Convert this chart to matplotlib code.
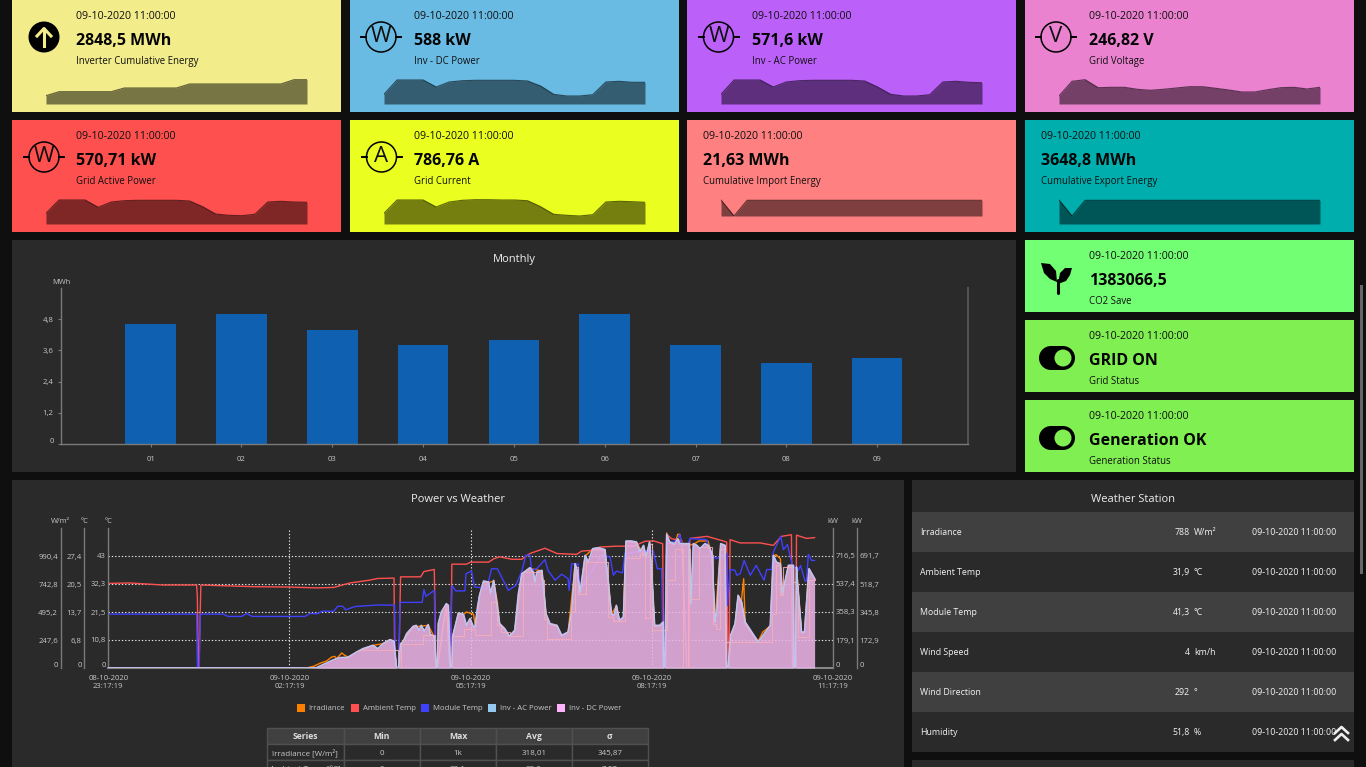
import matplotlib
matplotlib.use('Agg')
import matplotlib.pyplot as plt
from matplotlib.patches import Rectangle, Circle, Polygon
from matplotlib.transforms import ScaledTranslation

plt.rcParams['font.family'] = ['Open Sans', 'DejaVu Sans']

W, H = 1366, 767

# ---- stat cards
stamp = '09-10-2020 11:00:00'
card_values = ['2848,5 MWh', '588 kW', '571,6 kW', '246,82 V',
               '570,71 kW', '786,76 A', '21,63 MWh', '3648,8 MWh']
card_names = ['Inverter Cumulative Energy', 'Inv - DC Power', 'Inv - AC Power', 'Grid Voltage',
              'Grid Active Power', 'Grid Current', 'Cumulative Import Energy', 'Cumulative Export Energy']
card_colors = ['#F2EC8A', '#6ABBE4', '#BC60FA', '#EA82D0',
               '#FF5050', '#EAFF1F', '#FF8080', '#00AEAE']
card_icons = ['up', 'W', 'W', 'V', 'W', 'A', None, None]

spark_energy = [8.3, 12.3, 12.3, 12.3, 12.3, 12.3, 16, 16, 16, 16, 16, 20, 20, 20, 20, 20, 20, 20, 20, 24.3, 24.3]
spark_dc = [9.7, 24, 24, 24, 17, 22, 23.3, 23.7, 23.7, 23.7, 23.7, 23, 18, 9.7, 8, 8, 9.3, 22, 22.7, 21.7, 21.7]
spark_ac = [9.7, 24, 24, 24, 17, 22, 23.3, 23.7, 23.7, 23.7, 23.7, 23, 17, 9.7, 8, 8, 9.3, 22, 22.7, 21.7, 21.3]
spark_volt = [8, 22.7, 24.3, 16.3, 16.7, 16.7, 14.7, 13.7, 14.7, 16, 17.3, 17.3, 15.7, 14, 12, 12, 14.3, 16.3, 16.7, 15, 16.7]
spark_active = [10.7, 24, 24, 24, 16.7, 22, 23.3, 23.7, 23.7, 23.7, 23.7, 23, 17.3, 10, 8.7, 8.3, 9.7, 22, 22.7, 22, 21.7]
spark_current = [10.7, 24, 24, 24, 17, 22, 23.7, 24.3, 24.3, 24, 24, 23.3, 17.3, 9.7, 8.7, 8, 9.3, 22, 22.7, 22.3, 21.7]
spark_import = [16, 0, 15.7, 15.7, 15.7, 15.7, 15.7, 15.7, 15.7, 15.7, 15.7, 15.7, 15.7, 15.7, 15.7, 15.7, 15.7, 15.7, 15.7, 15.7, 15.7]
spark_export = [24, 8, 23.7, 23.7, 23.7, 23.7, 23.7, 23.7, 23.7, 23.7, 23.7, 23.7, 23.7, 23.7, 23.7, 23.7, 23.7, 23.7, 23.7, 23.7, 23.7]
sparks = [spark_energy, spark_dc, spark_ac, spark_volt, spark_active, spark_current, spark_import, spark_export]

# ---- monthly bars
months = ['01', '02', '03', '04', '05', '06', '07', '08', '09']
monthly_mwh = [4.6, 5.0, 4.4, 3.8, 4.0, 5.0, 3.8, 3.1, 3.3]
monthly_ticks = [0, 1.2, 2.4, 3.6, 4.8]

# ---- power vs weather, t is minutes after 08-10-2020 23:17:19
x_ticks = [0, 180, 360, 540, 720]
x_labels = ['08-10-2020\n23:17:19', '09-10-2020\n02:17:19', '09-10-2020\n05:17:19', '09-10-2020\n08:17:19', '09-10-2020\n11:17:19']

power_t = [0, 197, 207, 214, 224, 230, 238, 247, 253, 263, 268, 273, 280, 284, 286.5, 288.5, 290.5, 293, 296.5, 303,
           306, 309, 311, 314, 318, 320, 324, 326, 327, 328, 331, 336, 338, 340, 341.5, 342.3, 344.6, 348, 353, 356,
           359.5, 363, 364.5, 367, 369, 373, 378, 380, 383, 386, 389, 394, 398.6, 404, 407.6, 411, 419, 422.5, 424, 426,
           431, 435, 439, 446, 450.6, 457, 460.6, 464, 466, 469, 474, 477, 481.5, 487, 493.7, 497, 500, 502.6, 505, 508,
           512, 514.6, 520, 525, 528.5, 532, 534.5, 538, 540.4, 543, 548, 551.5, 552, 553.3, 555, 558, 563, 566, 568, 570,
           571, 576.5, 577.5, 579, 581.5, 585, 588, 593, 596.4, 600, 603, 605, 608.7, 613, 614.5, 616, 618.6, 623, 626, 629.5,
           633, 646, 658, 661, 664, 668, 670, 676, 681, 681.5, 683, 684, 685, 689, 692, 696.5, 702]
dc_kw = [0, 0, 2, 23, 51, 64, 66, 99, 119, 140, 119, 150, 175, 165, 0, 0, 150, 161, 212, 257,
         263, 233, 263, 228, 268, 208, 196, 0, 0, 274, 346, 397, 387, 0, 0, 196, 253, 340, 331, 263,
         305, 253, 253, 377, 449, 537, 531, 459, 541, 407, 274, 243, 196, 233, 459, 582, 619, 593, 531, 593,
         603, 335, 274, 263, 202, 222, 356, 644, 603, 469, 696, 654, 737, 743, 731, 531, 335, 325, 387, 294,
         315, 784, 784, 778, 716, 757, 685, 778, 562, 263, 263, 284, 0, 0, 825, 778, 768, 798, 768, 768,
         768, 768, 768, 397, 768, 757, 737, 768, 757, 706, 284, 356, 768, 757, 0, 0, 202, 274, 449, 407,
         284, 161, 263, 696, 654, 644, 459, 634, 634, 0, 0, 624, 531, 222, 222, 613, 552]
ac_kw = [0, 0, 2, 23, 53, 66, 68, 102, 124, 145, 124, 156, 181, 171, 0, 0, 156, 166, 220, 267,
         273, 241, 273, 237, 277, 215, 203, 0, 0, 284, 358, 411, 401, 0, 0, 203, 262, 352, 343, 273,
         316, 262, 262, 390, 465, 556, 550, 475, 561, 422, 284, 252, 203, 241, 475, 603, 642, 614, 550, 614,
         625, 348, 284, 273, 209, 230, 369, 667, 625, 486, 721, 678, 763, 770, 757, 550, 348, 337, 401, 305,
         326, 812, 812, 806, 742, 785, 710, 806, 582, 273, 273, 294, 0, 0, 855, 806, 795, 827, 795, 795,
         795, 795, 795, 411, 795, 785, 763, 795, 785, 731, 294, 369, 795, 785, 0, 0, 209, 284, 465, 422,
         294, 166, 273, 721, 678, 667, 475, 657, 657, 0, 0, 646, 550, 230, 230, 635, 571.6]

ambient_t = [0, 21.5, 54.6, 87.8, 88.5, 89.5, 90.1, 92, 117.6, 144, 180, 207, 224, 240, 260, 267.4, 284, 284.5, 286, 288.7,
             290.5, 310.4, 313.7, 324, 325.7, 340, 341.5, 356, 360, 378, 383, 389, 401, 411, 419, 434, 446, 465.5, 470.5, 482,
             488.7, 505, 522, 533.5, 542, 551, 552, 554, 555, 560, 570, 575, 577, 578, 595, 609.6, 614.6, 616, 617, 618,
             628, 648, 661, 669, 679, 680, 683.5, 684, 694, 702]
ambient_c = [20.7, 20.8, 20.3, 20.3, 17.4, 0, 0, 20.3, 20.1, 19.9, 19.8, 19.6, 19.7, 20.8, 21.5, 21.9, 22.0, 6, 0, 0,
             22.3, 22.3, 23.6, 24.1, 0, 0, 25.4, 25.4, 25.9, 25.9, 26.7, 27.2, 26.6, 26.6, 28, 29.3, 28, 27.8, 28.6, 28.8,
             29.6, 29.8, 29.8, 31, 31.1, 30.4, 0, 0, 32.7, 31.6, 31.2, 0, 0, 31.7, 32.2, 31.2, 30.8, 0, 0, 31.4,
             30.6, 30.6, 30, 32.2, 32.6, 0, 0, 32.5, 31.7, 31.9]

module_t = [0, 87.8, 88.5, 90.4, 91.4, 114, 119, 132.5, 137.5, 143, 195.5, 200.4, 208.7, 212, 224, 228, 233, 236, 245, 268,
            284.6, 285.2, 288.6, 290, 312, 313.7, 315.7, 324, 325.4, 340, 341.6, 345.5, 354.5, 355.5, 361, 364, 371, 376, 381, 386.7,
            397.6, 405, 411, 415, 419, 420.8, 425.8, 434, 437, 444, 450.6, 457, 458, 460.6, 467, 469, 490, 498.7, 502, 505,
            511, 513.6, 536.8, 541.7, 545.7, 550, 551.7, 553, 555, 565, 568, 570, 576.5, 578, 594.7, 598.7, 604.7, 614.6, 615.5, 618,
            623, 624.6, 628, 632, 638, 644, 651.7, 654.4, 659.4, 661, 668.3, 671, 675, 680, 686, 688, 692.5, 694, 695.8, 699, 702]
module_c = [20.7, 20.7, 0, 0, 20.7, 20.7, 19.8, 19.8, 20.9, 19.8, 19.8, 20.9, 20.9, 21.8, 21.8, 23.7, 23.7, 22.3, 23.6, 24.2,
            24.1, 0, 0, 25.2, 25.2, 30.1, 27.5, 29.8, 0, 0, 31.6, 29.6, 29.6, 36.2, 37.2, 31.1, 30.8, 30.4, 38.1, 38.1,
            29.8, 31.7, 37.1, 43.3, 43.3, 37.5, 38.1, 41.6, 37.5, 33.7, 36, 34.3, 29.8, 40, 40, 29.8, 43.3, 42.6, 35.6, 37.2,
            36.5, 43.9, 45.2, 44.9, 38.1, 38.1, 0, 0, 47.7, 49, 51.3, 47.7, 47.7, 49.7, 49.3, 43.3, 42, 43.9, 24, 37.8,
            37.5, 35.6, 36.2, 41.3, 35.6, 39.4, 33.7, 37.8, 37.8, 44.5, 50.6, 45.4, 47.4, 39.4, 37.5, 39.4, 33.4, 33.4, 43.6, 41.3, 41.3]

irr_t = [0, 197, 204, 211, 217, 222, 225, 227, 232, 235, 239, 247, 263, 273, 280, 284, 286, 289, 290.5, 303,
         318, 324, 326, 327, 336, 339.5, 341.5, 342.3, 348, 353, 356, 363, 365, 369, 373, 378, 383, 386.7, 389, 394,
         398.6, 404, 411, 419, 431, 435, 439, 446, 450.6, 457, 464, 469, 474, 481, 493, 497, 500, 505, 508, 512,
         514.6, 525, 534, 538, 543, 548, 551.5, 552, 553.3, 555, 558, 563, 566, 568, 570, 571, 576.5, 577.5, 581, 587,
         596, 600, 603, 608.7, 613, 614, 616.6, 618.6, 623, 626, 629, 631.5, 633, 641, 646, 650.5, 658, 661, 663.7, 668,
         670, 676, 681, 681.5, 683, 684, 689, 692, 696, 702]
irr_wm2 = [0, 0, 15, 44, 62, 97, 103, 83, 133, 112, 94, 142, 200, 215, 251, 236, 0, 0, 209, 363,
           377, 274, 0, 0, 563, 0, 0, 280, 481, 475, 495, 475, 363, 637, 764, 755, 769, 584, 377, 339,
           280, 327, 828, 881, 858, 475, 386, 371, 283, 312, 917, 666, 990, 1049, 1041, 755, 475, 548, 416, 445,
           1117, 1108, 976, 1108, 371, 371, 401, 0, 0, 1194, 1105, 1091, 1182, 1182, 1091, 1091, 1091, 1091, 1091, 1123,
           1123, 1005, 401, 1094, 1079, 0, 0, 283, 386, 637, 569, 790, 392, 289, 236, 318, 371, 990, 1002, 967,
           651, 902, 902, 0, 0, 887, 312, 312, 870, 788]

# pale stepped trace that sits over the filled area
held_t = [250, 282, 288, 291, 313, 325, 342, 354, 364, 380, 386, 390, 399, 412, 430, 433, 436, 460, 464, 467,
          475, 497, 502, 514, 528, 533, 538, 540, 555, 563, 571, 576.5, 578, 587, 600, 601, 604, 608, 613, 660,
          664, 668, 671, 681, 684, 686, 696, 702]
held_wm2 = [156, 156, 0, 209, 295, 0, 280, 348, 295, 584, 377, 318, 280, 849, 775, 436, 259, 495, 893, 657,
            937, 451, 416, 976, 1010, 445, 1100, 333, 775, 1055, 0, 1055, 613, 1070, 1000, 392, 348, 1055, 230, 481,
            908, 643, 893, 761, 734, 274, 775, 790]

irr_ticks = [0, 247.6, 495.2, 742.8, 990.4]
amb_ticks = [0, 6.8, 13.7, 20.5, 27.4]
mod_ticks = [0, 10.8, 21.5, 32.3, 43]
ac_ticks = [0, 179.1, 358.3, 537.4, 716.5]
dc_ticks = [0, 172.9, 345.8, 518.7, 691.7]

legend_names = ['Irradiance', 'Ambient Temp', 'Module Temp', 'Inv - AC Power', 'Inv - DC Power']
legend_colors = ['#FF8000', '#FF5050', '#4040FF', '#95C8EE', '#FFB3FF']

table_head = ['Series', 'Min', 'Max', 'Avg', 'σ']
table_rows = [['Irradiance [W/m²]', '0', '1k', '318,01', '345,87'],
              ['Ambient Temp [°C]', '0', '33,1', '23,5', '7,07']]

# ---- weather station
weather_names = ['Irradiance', 'Ambient Temp', 'Module Temp', 'Wind Speed', 'Wind Direction', 'Humidity']
weather_values = ['788', '31,9', '41,3', '4', '292', '51,8']
weather_units = ['W/m²', '°C', '°C', 'km/h', '°', '%']

# ---- status cards
status_values = ['1383066,5', 'GRID ON', 'Generation OK']
status_names = ['CO2 Save', 'Grid Status', 'Generation Status']
status_colors = ['#73FF73', '#80EF52', '#80EF52']

PANEL = '#2A2A2A'
TICK = '#C6C6C6'
AXIS = '#7A7A7A'


def px_axes(x0, y0, x1, y1, **kw):
    # axes from pixel box, y measured from the top of the page
    ax = fig.add_axes([x0 / W, 1 - y1 / H, (x1 - x0) / W, (y1 - y0) / H], **kw)
    ax.patch.set_visible(False)
    return ax


def label(v):
    return ('%g' % v).replace('.', ',')


def txt(x, y, s, size=7, color='black', ha='left', weight='normal', va='center'):
    # Open Sans sits a little high when centred
    bg.text(x, y + 1.2, s, fontsize=size, color=color, ha=ha, va=va, fontweight=weight, zorder=3)


def lift_zero(ax):
    lab = ax.get_yticklabels()[0]
    lab.set_transform(lab.get_transform() + ScaledTranslation(0, 2.6 / 72, fig.dpi_scale_trans))


fig = plt.figure(figsize=(W / 100, H / 100), dpi=100, facecolor='#0F0F0F')
bg = fig.add_axes([0, 0, 1, 1])
bg.set_xlim(0, W)
bg.set_ylim(H, 0)
bg.axis('off')


def box(x0, y0, x1, y1, color, z=1):
    bg.add_patch(Rectangle((x0, y0), x1 - x0, y1 - y0, facecolor=color, edgecolor='none', zorder=z))


def meter(cx, cy, letter):
    bg.add_patch(Circle((cx, cy), 15, facecolor='none', edgecolor='black', lw=1.1, zorder=3))
    bg.plot([cx - 20, cx - 15], [cy, cy], color='black', lw=1.4, zorder=3)
    bg.plot([cx + 15, cx + 20], [cy, cy], color='black', lw=1.4, zorder=3)
    bg.text(cx, cy, letter, fontsize=16, color='#101010', ha='center', va='center', zorder=4)


# stat cards
card_x = [(12, 341), (350, 679), (687, 1016), (1025, 1354)]
card_y = [(0, 112), (120, 232)]
text_x = [76, 414, 752, 1089, 76, 414, 703, 1041]
spark_x = [(46, 307), (384, 645), (721, 982), (1059, 1320)]
icon_x = [44, 381, 718.5, 1056, 44, 381.5, None, None]
spark_base = [104, 104, 104, 104, 224, 224, 216, 224]

for i in range(8):
    col = i % 4
    row = i // 4
    x0, x1 = card_x[col]
    y0, y1 = card_y[row]
    box(x0, y0, x1, y1, card_colors[i])
    txt(text_x[i], y0 + 15, stamp, 7.7, '#101010')
    txt(text_x[i], y0 + 39.7, card_values[i], 11.5, '#050505', weight='bold')
    txt(text_x[i], y0 + 60.5, card_names[i], 6.9, '#101010')

    cy = y0 + 37
    if card_icons[i] == 'up':
        cx = icon_x[i]
        bg.add_patch(Circle((cx, cy), 15.5, facecolor='black', edgecolor='none', zorder=3))
        bg.plot([cx, cx], [cy + 9, cy - 8], color=card_colors[i], lw=2.2, zorder=4)
        bg.plot([cx - 7, cx, cx + 7], [cy - 1, cy - 8.5, cy - 1], color=card_colors[i], lw=2.2, zorder=4)
    elif card_icons[i] is not None:
        meter(icon_x[i], cy, card_icons[i])

    sx0, sx1 = spark_x[col]
    base = spark_base[i]
    sp = px_axes(sx0, base - 25, sx1, base)
    sp.axis('off')
    sp.set_xlim(0, 20)
    sp.set_ylim(0, 25)
    sp.fill_between(range(21), sparks[i], 0, color='black', alpha=0.5, lw=0)
    sp.plot(range(21), sparks[i], color='black', alpha=0.6, lw=0.8)

# status cards
status_y = [(240, 312), (320, 392), (400, 472)]
for i in range(3):
    y0, y1 = status_y[i]
    box(1025, y0, 1354, y1, status_colors[i])
    txt(1089, y0 + 15, stamp, 7.7, '#101010')
    txt(1089, y0 + 39.7, status_values[i], 11.5, '#050505', weight='bold')
    txt(1089, y0 + 60.5, status_names[i], 6.9, '#101010')
    if i > 0:
        bg.add_patch(Rectangle((1051, y0 + 26), 12, 24, facecolor='black', edgecolor='none', zorder=3))
        bg.add_patch(Circle((1051, y0 + 38), 12, facecolor='black', edgecolor='none', zorder=3))
        bg.add_patch(Circle((1063, y0 + 38), 12, facecolor='black', edgecolor='none', zorder=3))
        bg.add_patch(Circle((1063, y0 + 38), 8.5, facecolor=status_colors[i], edgecolor='none', zorder=4))

# sprout icon
bg.plot([1057.5, 1057.5], [280, 293], color='black', lw=2.2, zorder=3, solid_capstyle='round')
bg.add_patch(Polygon([(1041, 263), (1050, 264), (1056, 271), (1057, 282), (1050, 279), (1044, 273)], facecolor='black', zorder=3))
bg.add_patch(Polygon([(1072, 268), (1065, 268), (1060, 273), (1058, 284), (1066, 281), (1070, 275)], facecolor='black', zorder=3))

# monthly panel
box(12, 240, 1016, 472, PANEL)
txt(514, 258.6, 'Monthly', 8, '#EEEEEE', ha='center')
txt(61, 281, 'MWh', 5.4, TICK, ha='center')
ax_m = px_axes(60.5, 288, 968, 444)
ax_m.bar(range(1, 10), monthly_mwh, width=0.557, color='#0F60B0', zorder=2)
ax_m.set_xlim(0.008, 10)
ax_m.set_ylim(0, 6)
ax_m.set_xticks(range(1, 10), months)
ax_m.set_yticks(monthly_ticks, [label(v) for v in monthly_ticks])
ax_m.tick_params(axis='both', length=2, width=0.8, color=AXIS, labelcolor=TICK, labelsize=5.6, pad=3)
ax_m.tick_params(axis='x', pad=7)
lift_zero(ax_m)
ax_m.spines['top'].set_visible(False)
for s in ['left', 'bottom', 'right']:
    ax_m.spines[s].set_color(AXIS)
    ax_m.spines[s].set_linewidth(1)
ax_m.spines['right'].set_color('#555555')
ax_m.spines['right'].set_linewidth(1.4)

# power vs weather panel
box(12, 480, 904, H, PANEL)
txt(458, 498.6, 'Power vs Weather', 8, '#EEEEEE', ha='center')

ax_irr = px_axes(108.3, 528, 832.7, 668)
ax_amb = ax_irr.twinx()
ax_mod = ax_irr.twinx()
ax_ac = ax_irr.twinx()
ax_dc = ax_irr.twinx()
ax_held = ax_irr.twinx()

ax_irr.set_xlim(0, 720)
ax_irr.set_xticks(x_ticks, x_labels)
ax_irr.tick_params(axis='x', length=0, labelcolor=TICK, labelsize=5.6, pad=5)
ax_irr.grid(True, color='#E8E8E8', lw=0.8, linestyle=(0, (1.2, 1.8)), zorder=0)
ax_irr.set_axisbelow(True)

y_axes = [(ax_irr, irr_ticks, 1238, 'left', 47.6), (ax_amb, amb_ticks, 34.25, 'left', 24),
          (ax_mod, mod_ticks, 53.75, 'left', 0), (ax_ac, ac_ticks, 895.6, 'right', 0),
          (ax_dc, dc_ticks, 864.6, 'right', 24)]
for a, ticks, top, side, out in y_axes:
    a.patch.set_visible(False)
    a.set_ylim(0, top)
    a.set_yticks(ticks, [label(v) for v in ticks])
    if side == 'left':
        a.yaxis.tick_left()
    else:
        a.yaxis.tick_right()
    a.tick_params(axis='y', length=0, labelcolor=TICK, labelsize=5.6, pad=2)
    for s in a.spines.values():
        s.set_visible(False)
    a.spines[side].set_visible(True)
    a.spines[side].set_position(('outward', out * 0.72))
    a.spines[side].set_color(AXIS)
    a.spines[side].set_linewidth(1)
    # set_position rebuilds the ticks, so the zero label is moved after it
    lift_zero(a)
ax_irr.spines['bottom'].set_visible(True)
ax_irr.spines['bottom'].set_color('#8A8A8A')
ax_irr.spines['bottom'].set_linewidth(1.4)

ax_held.set_ylim(0, 1238)
ax_held.axis('off')

ax_irr.plot(irr_t, irr_wm2, color=legend_colors[0], lw=1)
ax_amb.plot(ambient_t, ambient_c, color=legend_colors[1], lw=1)
ax_mod.plot(module_t, module_c, color=legend_colors[2], lw=1)
ax_ac.fill_between(power_t, ac_kw, 0, color=legend_colors[3], alpha=0.5, lw=0)
ax_dc.fill_between(power_t, dc_kw, 0, color='#FFB0E6', alpha=0.72, lw=0)
ax_dc.plot(power_t, dc_kw, color='#DDB0EE', lw=1.2)
ax_held.plot(held_t, held_wm2, color='#F6AEBA', lw=0.8, alpha=0.85, drawstyle='steps-post')
ax_held.plot(power_t, [v * 1238 / 895.6 for v in ac_kw], color='#A9D3EE', lw=0.7, alpha=0.8)

for x, s in [(60.7, 'W/m²'), (84.3, '°C'), (108.3, '°C'), (832.7, 'kW'), (856.7, 'kW')]:
    txt(x, 520.5, s, 5.4, TICK, ha='center')

# legend
swatch_x = [296.7, 350.7, 420.7, 488, 557.3]
for sx, name, c in zip(swatch_x, legend_names, legend_colors):
    box(sx, 704, sx + 8, 712, c, z=2)
    txt(sx + 12, 707.5, name, 5.6, TICK)

# stats table
col_x = [267, 343.5, 420, 496, 571.7, 648]
row_y = [727.5, 744, 760, 776]
for r in range(3):
    for c in range(5):
        bg.add_patch(Rectangle((col_x[c], row_y[r]), col_x[c + 1] - col_x[c], row_y[r + 1] - row_y[r],
                               facecolor='#404040' if r == 0 else PANEL, edgecolor='#505050', lw=1, zorder=2))
        center = (col_x[c] + col_x[c + 1]) / 2
        cy = (row_y[r] + row_y[r + 1]) / 2
        if r == 0:
            txt(center, cy, table_head[c], 6.2, '#DDDDDD', ha='center', weight='bold')
        else:
            txt(center, cy, table_rows[r - 1][c], 5.8, '#C8C8C8', ha='center')

# weather station panel
box(912, 480, 1354, 752, PANEL)
box(912, 760, 1354, H, PANEL)
txt(1133, 498.6, 'Weather Station', 8, '#EEEEEE', ha='center')
for i in range(6):
    y0 = 512 + i * 40
    if i % 2 == 0:
        box(912, y0, 1354, y0 + 40, '#404040', z=2)
    cy = y0 + 19.5
    txt(920, cy, weather_names[i], 6.3, '#F2F2F2')
    txt(1190, cy, weather_values[i], 6.3, '#F2F2F2', ha='right')
    txt(1194, cy, weather_units[i], 6.3, '#F2F2F2')
    txt(1252, cy, stamp, 6.4, '#F2F2F2')

# back to top chevrons and scrollbar
for dy in [0, 7]:
    bg.plot([1335, 1341.5, 1348], [733 + dy, 727 + dy, 733 + dy], color='#EEEEEE', lw=1.9, zorder=5)
box(1360, 285, 1363, 574, '#666666')

fig.savefig('out.png', dpi=100, facecolor=fig.get_facecolor())
